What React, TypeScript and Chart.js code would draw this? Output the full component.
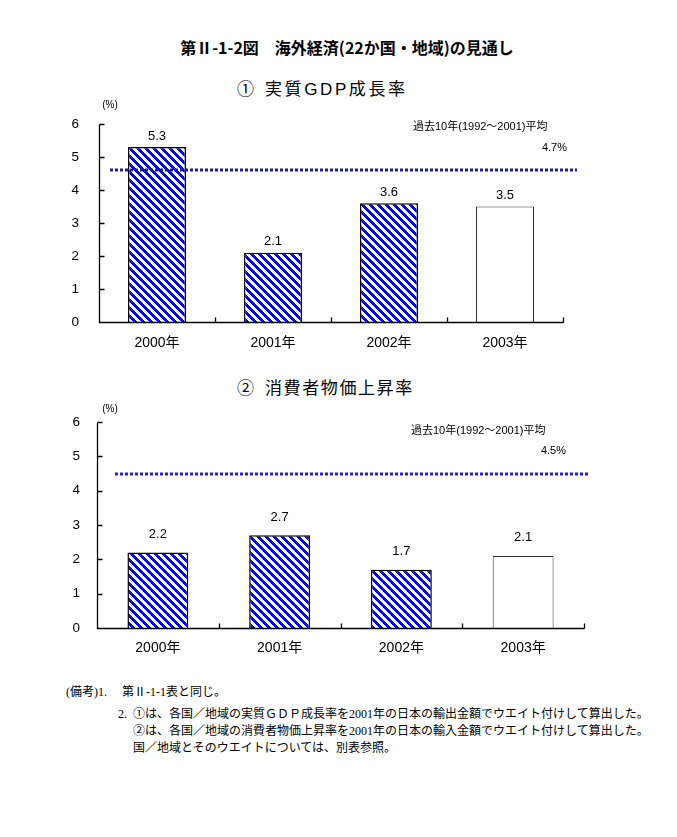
import React, { useEffect, useRef } from "react";
import { Chart, registerables } from "chart.js";

Chart.register(...registerables);

// ---- data ----
const categories = ["2000年", "2001年", "2002年", "2003年"];
const gdpValues = [5.3, 2.1, 3.6, 3.5];
const cpiValues = [2.2, 2.7, 1.7, 2.1];
const forecastFlags = [false, false, false, true];
const yTickValues = [0, 1, 2, 3, 4, 5, 6];
const avgCaption = "過去10年(1992～2001)平均";
const gdpAvgLabel = "4.7%";
const gdpAvgLine = 4.6;
const cpiAvgLabel = "4.5%";
const cpiAvgLine = 4.5;

const SANS = "'Liberation Sans', 'Noto Sans CJK JP', sans-serif";
const CJK = "'Noto Sans CJK JP', 'Liberation Sans', sans-serif";
const SERIF = "'Liberation Serif', 'Noto Sans CJK JP', serif";

function makeHatch(ctx: CanvasRenderingContext2D) {
  const c = document.createElement("canvas");
  c.width = 8;
  c.height = 8;
  const g = c.getContext("2d")!;
  g.fillStyle = "#ffffff";
  g.fillRect(0, 0, 8, 8);
  g.fillStyle = "#0000ff";
  for (let yy = 0; yy < 8; yy++) {
    for (let k = 0; k < 4; k++) g.fillRect((yy + k) % 8, yy, 1, 1);
  }
  return ctx.createPattern(c, "repeat")!;
}

const decorPlugin = {
  id: "decor",
  afterDatasetsDraw(chart: any, _args: any, opts: any) {
    const { ctx, chartArea: a } = chart;
    const x = chart.scales.x;
    const y = chart.scales.y;
    ctx.save();
    // axes
    ctx.strokeStyle = "#000";
    ctx.lineWidth = 1.3;
    const ax = Math.round(a.left) + 0.5;
    const ay = Math.round(a.bottom) + 0.5;
    ctx.beginPath();
    ctx.moveTo(ax, Math.round(y.getPixelForValue(6)) + 0.5);
    ctx.lineTo(ax, ay);
    ctx.lineTo(Math.round(a.right) + 0.5, ay);
    yTickValues.forEach((v) => {
      const py = Math.round(y.getPixelForValue(v)) + 0.5;
      ctx.moveTo(ax, py);
      ctx.lineTo(ax + 5, py);
    });
    for (let i = 0; i <= categories.length; i++) {
      const px = Math.round(x.getPixelForValue(i - 0.5)) + 0.5;
      ctx.moveTo(px, ay);
      ctx.lineTo(px, ay - 5);
    }
    ctx.stroke();

    // dotted average line
    const ly = Math.round(y.getPixelForValue(opts.avgLine));
    ctx.strokeStyle = opts.lineColor;
    ctx.lineWidth = 3;
    ctx.setLineDash([3, 2]);
    ctx.beginPath();
    ctx.moveTo(opts.lineX0, ly);
    ctx.lineTo(opts.lineX1, ly);
    ctx.stroke();
    ctx.setLineDash([]);

    // value labels
    ctx.fillStyle = "#000";
    ctx.textAlign = "center";
    ctx.textBaseline = "middle";
    ctx.font = `13px ${SANS}`;
    const meta = chart.getDatasetMeta(0);
    meta.data.forEach((bar: any, i: number) => {
      const v = chart.data.datasets[0].data[i];
      ctx.fillText(v.toFixed(1), bar.x, bar.y - opts.labelOffset);
    });

    // unit
    ctx.font = `10px ${SANS}`;
    ctx.fillText("(%)", opts.unitX, opts.unitY);

    // caption
    ctx.font = `11px ${SANS}`;
    ctx.textAlign = "left";
    ctx.fillText(avgCaption, opts.capX, opts.capY);
    ctx.textAlign = "right";
    ctx.fillText(opts.avgLabel, opts.avgX, opts.avgY);
    ctx.restore();
  },
};

type Cfg = {
  top: number;
  height: number;
  padTop: number;
  padRight: number;
  yAxisW: number;
  xAxisH: number;
  yTickPad: number;
  xTickPad: number;
  labelOffset: number;
  lineColor: string;
  lineX0: number;
  lineX1: number;
  unitX: number;
  unitY: number;
  capX: number;
  capY: number;
  avgX: number;
  avgY: number;
};

function BarChart({
  values,
  avgLine,
  avgLabel,
  cfg,
}: {
  values: number[];
  avgLine: number;
  avgLabel: string;
  cfg: Cfg;
}) {
  const ref = useRef<HTMLCanvasElement | null>(null);
  useEffect(() => {
    const canvas = ref.current!;
    const ctx = canvas.getContext("2d")!;
    const hatch = makeHatch(ctx);
    const chart = new Chart(ctx, {
      type: "bar",
      data: {
        labels: categories,
        datasets: [
          {
            data: values,
            backgroundColor: values.map((_, i) => (forecastFlags[i] ? "#ffffff" : hatch)) as any,
            borderColor: values.map((_, i) => (forecastFlags[i] ? "#333333" : "#000000")),
            borderWidth: values.map((_, i) => (forecastFlags[i] ? 1 : 1.5)),
            barPercentage: 0.5,
            categoryPercentage: 1,
          },
        ],
      },
      options: {
        animation: false,
        responsive: false,
        maintainAspectRatio: false,
        events: [],
        layout: { padding: { top: cfg.padTop, right: cfg.padRight, left: 0, bottom: 0 } },
        plugins: {
          legend: { display: false },
          tooltip: { enabled: false },
          title: { display: false },
          decor: {
            avgLine,
            avgLabel,
            lineColor: cfg.lineColor,
            lineX0: cfg.lineX0,
            lineX1: cfg.lineX1,
            labelOffset: cfg.labelOffset,
            unitX: cfg.unitX,
            unitY: cfg.unitY,
            capX: cfg.capX,
            capY: cfg.capY,
            avgX: cfg.avgX,
            avgY: cfg.avgY,
          },
        } as any,
        scales: {
          x: {
            type: "category",
            offset: true,
            grid: { display: false, drawTicks: false },
            border: { display: false },
            ticks: { color: "#000", font: { size: 14, family: SANS }, padding: cfg.xTickPad, maxRotation: 0 },
            afterFit: (s: any) => {
              s.height = cfg.xAxisH;
            },
          },
          y: {
            min: 0,
            max: 6,
            grid: { display: false, drawTicks: false },
            border: { display: false },
            ticks: { stepSize: 1, color: "#000", font: { size: 13.5, family: SANS }, padding: cfg.yTickPad },
            afterFit: (s: any) => {
              s.width = cfg.yAxisW;
              s.paddingTop = 0;
              s.paddingBottom = 0;
            },
          },
        },
      },
      plugins: [decorPlugin],
    });
    return () => chart.destroy();
  }, []);
  return (
    <canvas
      ref={ref}
      width={677}
      height={cfg.height}
      style={{ position: "absolute", left: 0, top: cfg.top, width: 677, height: cfg.height, display: "block" }}
    />
  );
}

const cfg1: Cfg = {
  top: 100,
  height: 260,
  padTop: 24,
  padRight: 114,
  yAxisW: 99,
  xAxisH: 38,
  yTickPad: 20,
  xTickPad: 13,
  labelOffset: 11,
  lineColor: "#1a1a9e",
  lineX0: 110,
  lineX1: 577,
  unitX: 110,
  unitY: 5,
  capX: 413,
  capY: 27,
  avgX: 567,
  avgY: 48,
};

const cfg2: Cfg = {
  top: 400,
  height: 270,
  padTop: 22,
  padRight: 93,
  yAxisW: 97,
  xAxisH: 42,
  yTickPad: 17,
  xTickPad: 12,
  labelOffset: 18,
  lineColor: "#2020e6",
  lineX0: 115,
  lineX1: 588,
  unitX: 110,
  unitY: 9,
  capX: 411,
  capY: 31,
  avgX: 566,
  avgY: 51,
};

const abs = (top: number, left: number, extra: React.CSSProperties = {}): React.CSSProperties => ({
  position: "absolute",
  top,
  left,
  whiteSpace: "nowrap",
  color: "#000",
  ...extra,
});

export default function App() {
  const noteStyle: React.CSSProperties = { fontFamily: SERIF, fontSize: 12, lineHeight: "17px" };
  const subStyle: React.CSSProperties = { fontFamily: SANS, fontSize: 17, lineHeight: "20px", letterSpacing: 1.6 };
  return (
    <div style={{ position: "absolute", left: 0, top: 0, width: 677, height: 837, background: "#fff", overflow: "hidden" }}>
      <div
        style={abs(37, 0, {
          width: 694,
          textAlign: "center",
          fontFamily: CJK,
          fontWeight: "bold",
          fontSize: 16,
          lineHeight: "20px",
        })}
      >
        第Ⅱ-1-2図　海外経済(22か国・地域)の見通し
      </div>
      <div style={abs(80, 237, subStyle)}>①</div>
      <div style={abs(80, 265, { ...subStyle, letterSpacing: 2.6 })}>実質GDP成長率</div>
      <BarChart values={gdpValues} avgLine={gdpAvgLine} avgLabel={gdpAvgLabel} cfg={cfg1} />
      <div style={abs(379, 237, subStyle)}>②</div>
      <div style={abs(379, 265, subStyle)}>消費者物価上昇率</div>
      <BarChart values={cpiValues} avgLine={cpiAvgLine} avgLabel={cpiAvgLabel} cfg={cfg2} />
      <div style={abs(684, 66, noteStyle)}>(備考)1.</div>
      <div style={abs(684, 122, noteStyle)}>第Ⅱ-1-1表と同じ。</div>
      <div style={abs(706, 118, noteStyle)}>2.</div>
      <div style={abs(706, 133, noteStyle)}>①は、各国／地域の実質ＧＤＰ成長率を2001年の日本の輸出金額でウエイト付けして算出した。</div>
      <div style={abs(723, 133, noteStyle)}>②は、各国／地域の消費者物価上昇率を2001年の日本の輸入金額でウエイト付けして算出した。</div>
      <div style={abs(740, 133, noteStyle)}>国／地域とそのウエイトについては、別表参照。</div>
    </div>
  );
}
